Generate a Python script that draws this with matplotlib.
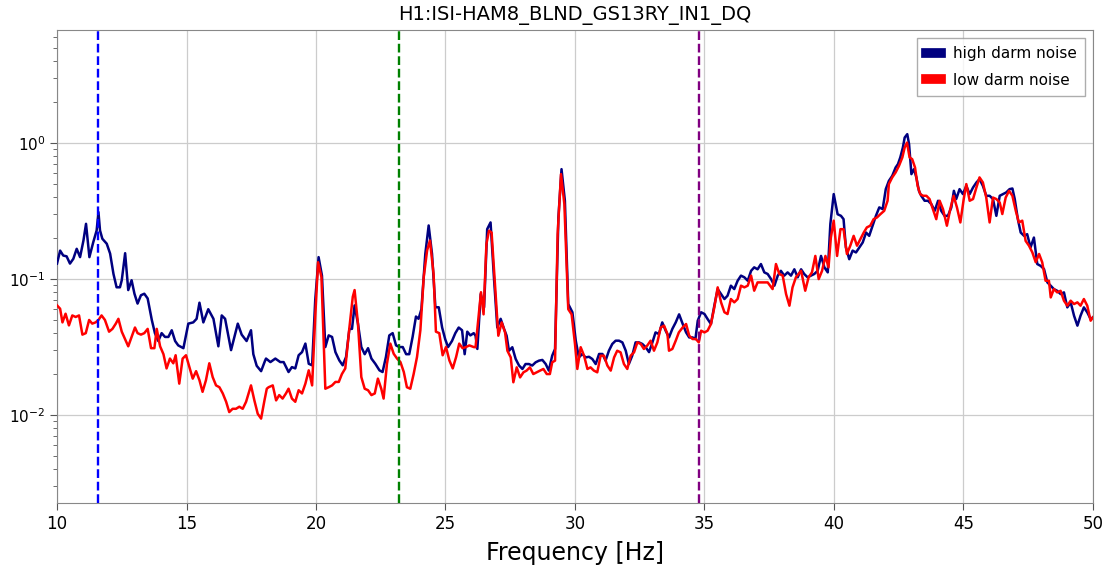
import matplotlib
matplotlib.use("Agg")
import matplotlib.pyplot as plt
from matplotlib.ticker import LogLocator, FixedLocator

title = "H1:ISI-HAM8_BLND_GS13RY_IN1_DQ"
xlabel = "Frequency [Hz]"
labels = ["high darm noise", "low darm noise"]
marker_freqs = [11.58, 23.2, 34.79]
marker_colors = ["#0000ff", "green", "purple"]
xticks = [10, 15, 20, 25, 30, 35, 40, 45, 50]

high_freq = [
    10.0, 10.12, 10.24, 10.37, 10.5, 10.63, 10.76, 10.89, 11.02, 11.12, 11.25, 11.4, 11.53, 11.6, 11.66,
    11.75, 11.92, 12.05, 12.18, 12.3, 12.43, 12.5, 12.63, 12.75, 12.88, 12.99, 13.11, 13.24, 13.37, 13.5,
    13.66, 13.78, 13.91, 14.04, 14.17, 14.3, 14.43, 14.56, 14.68, 14.88, 15.07, 15.26, 15.39, 15.5, 15.65,
    15.84, 16.04, 16.23, 16.36, 16.49, 16.72, 16.98, 17.13, 17.32, 17.49, 17.58, 17.71, 17.88, 18.03,
    18.07, 18.24, 18.43, 18.62, 18.75, 18.94, 19.07, 19.2, 19.33, 19.46, 19.59, 19.72, 19.85, 19.97,
    20.1, 20.23, 20.36, 20.49, 20.62, 20.75, 20.9, 21.03, 21.16, 21.29, 21.39, 21.49, 21.62, 21.75,
    21.88, 22.01, 22.14, 22.29, 22.45, 22.57, 22.7, 22.83, 22.96, 23.09, 23.22, 23.35, 23.48, 23.6,
    23.73, 23.86, 23.96, 24.07, 24.22, 24.35, 24.48, 24.61, 24.74, 24.87, 24.99, 25.1, 25.25, 25.38,
    25.51, 25.64, 25.74, 25.84, 25.96, 26.09,
    26.16, 26.23, 26.36, 26.49, 26.61, 26.74, 26.87, 27.0, 27.13, 27.26, 27.36, 27.45, 27.58, 27.71,
    27.84, 27.97, 28.09, 28.22, 28.35, 28.48, 28.61, 28.74, 28.87, 28.99, 29.12, 29.23, 29.36, 29.48,
    29.61, 29.74, 29.9, 30.03, 30.15, 30.28, 30.41, 30.54, 30.67, 30.8, 30.93, 31.06, 31.18, 31.31,
    31.44, 31.57, 31.7, 31.83, 31.96, 32.08, 32.21, 32.34, 32.47, 32.6, 32.73, 32.86, 32.99, 33.11,
    33.24, 33.37, 33.5, 33.63, 33.76, 33.89, 34.02,
    34.16, 34.29, 34.41, 34.54, 34.65, 34.74, 34.87, 35.0, 35.12, 35.25, 35.38, 35.51, 35.64, 35.77,
    35.89, 36.02, 36.15, 36.28, 36.41, 36.54, 36.67, 36.8, 36.92, 37.05, 37.18, 37.31, 37.44, 37.57,
    37.7, 37.83, 37.95, 38.08, 38.21, 38.34, 38.47, 38.6, 38.73, 38.85, 38.98, 39.11, 39.24, 39.37,
    39.5, 39.63, 39.76, 39.86, 39.99, 40.14, 40.27, 40.37, 40.46, 40.59, 40.72, 40.85, 40.98, 41.11,
    41.24, 41.36, 41.49, 41.62, 41.75, 41.88,
    42.0, 42.12, 42.25, 42.38, 42.47, 42.56, 42.66, 42.73, 42.83, 42.9, 42.99, 43.09, 43.18, 43.28,
    43.37, 43.5, 43.63, 43.76, 43.89, 44.02, 44.14, 44.27, 44.4, 44.53, 44.63, 44.72, 44.85, 44.98,
    45.11, 45.24, 45.37, 45.5, 45.62, 45.75, 45.88, 46.01, 46.14, 46.27, 46.4, 46.53, 46.65, 46.78,
    46.89, 46.98, 47.1, 47.21, 47.34, 47.46, 47.59, 47.72, 47.85, 47.98, 48.11, 48.24, 48.37, 48.49,
    48.62, 48.75, 48.88, 49.01, 49.14, 49.27, 49.4, 49.52, 49.65, 49.78, 49.91, 50.0,
]
high_vals = [
    0.13, 0.162, 0.149, 0.147, 0.13, 0.141, 0.167, 0.145, 0.192, 0.255, 0.145, 0.187, 0.228, 0.311, 0.228,
    0.198, 0.182, 0.154, 0.109, 0.087, 0.087, 0.098, 0.155, 0.083, 0.098, 0.078, 0.066, 0.076, 0.078, 0.072,
    0.050, 0.040, 0.035, 0.040, 0.0375, 0.0375, 0.042, 0.035, 0.0325, 0.031, 0.047, 0.048, 0.051, 0.067, 0.048,
    0.060, 0.051, 0.032, 0.054, 0.051, 0.030, 0.047, 0.039, 0.035, 0.042, 0.028, 0.023, 0.021, 0.025,
    0.026, 0.0245, 0.026, 0.0245, 0.0245, 0.0207, 0.0225, 0.022, 0.0275, 0.029, 0.0335, 0.0238, 0.0232, 0.070,
    0.145, 0.106, 0.0316, 0.0385, 0.0375, 0.029, 0.0252, 0.0232, 0.0267, 0.043, 0.043, 0.064, 0.047, 0.0316,
    0.028, 0.031, 0.026, 0.0238, 0.0213, 0.0207, 0.0267, 0.0385, 0.040, 0.0325, 0.0316, 0.0316, 0.028, 0.028,
    0.0375, 0.053, 0.051, 0.060, 0.153, 0.248, 0.153, 0.062, 0.062, 0.044, 0.036, 0.0316, 0.035, 0.040,
    0.044, 0.042, 0.028, 0.041, 0.0385, 0.040,
    0.0383, 0.0306, 0.0776, 0.062, 0.233, 0.261, 0.103, 0.044, 0.051, 0.043, 0.0383, 0.0297, 0.0315, 0.0258,
    0.0231, 0.0218, 0.0237, 0.0237, 0.0231, 0.0244, 0.0251, 0.0254, 0.0237, 0.0212, 0.0273, 0.0306, 0.284, 0.644,
    0.377, 0.0655, 0.057, 0.0352, 0.0265, 0.0281, 0.0265, 0.0268, 0.0258, 0.0237, 0.0281, 0.0281, 0.0251, 0.0297,
    0.0333, 0.0352, 0.0352, 0.0342, 0.0297, 0.0237, 0.0273, 0.0342, 0.0342, 0.0333, 0.0315, 0.0290, 0.0342, 0.0405,
    0.0394, 0.048, 0.0417, 0.0372, 0.043, 0.048, 0.055,
    0.0467, 0.0405, 0.0372, 0.0372, 0.0362, 0.0494, 0.057, 0.0553, 0.0508, 0.0467, 0.0637, 0.0844, 0.0776, 0.0713,
    0.0754, 0.0894, 0.0844, 0.0972, 0.106, 0.103, 0.0972, 0.115, 0.122, 0.118, 0.129, 0.112, 0.109, 0.100,
    0.0894, 0.106, 0.115, 0.106, 0.112, 0.106, 0.118, 0.103, 0.118, 0.109, 0.103, 0.106, 0.109, 0.115,
    0.148, 0.122, 0.112, 0.254, 0.422, 0.30, 0.292, 0.276, 0.171, 0.140, 0.162, 0.157, 0.171, 0.186,
    0.220, 0.208, 0.247, 0.292, 0.337, 0.327,
    0.459, 0.528, 0.575, 0.662, 0.701, 0.785, 0.929, 1.10, 1.165, 0.983, 0.592, 0.644, 0.560, 0.446,
    0.410, 0.377, 0.377, 0.356, 0.318, 0.377, 0.318, 0.292, 0.292, 0.336, 0.446, 0.388, 0.459, 0.422,
    0.485, 0.422, 0.472, 0.514, 0.544, 0.485, 0.410, 0.410, 0.388, 0.292, 0.410, 0.422, 0.434, 0.459,
    0.464, 0.388, 0.276, 0.220, 0.208, 0.214, 0.171, 0.202, 0.129, 0.125, 0.1185, 0.0945, 0.0893, 0.0844,
    0.082, 0.0776, 0.0798, 0.0619, 0.0674, 0.0537, 0.0454, 0.0537, 0.0619, 0.0569, 0.0508, 0.0523,
]

low_freq = [
    10.0, 10.12, 10.21, 10.33, 10.46, 10.59, 10.72, 10.85, 10.98, 11.11, 11.24, 11.36, 11.49, 11.6, 11.72,
    11.85, 12.01, 12.14, 12.27, 12.37, 12.5, 12.63, 12.75, 12.88, 13.01, 13.11, 13.24, 13.37, 13.5, 13.63,
    13.76, 13.85, 13.98, 14.11, 14.23, 14.36, 14.49, 14.58, 14.72, 14.85, 14.98, 15.11, 15.24, 15.37, 15.5,
    15.62, 15.75, 15.88, 16.01, 16.14, 16.27, 16.4, 16.53, 16.65, 16.78, 16.91, 17.04, 17.17, 17.3, 17.49,
    17.62, 17.75, 17.88, 18.01, 18.1,
    18.17, 18.33, 18.46, 18.58, 18.71, 18.84, 18.94, 19.07, 19.2, 19.33, 19.46, 19.59, 19.72, 19.85, 19.97,
    20.08, 20.21, 20.36, 20.49, 20.62, 20.75, 20.88, 21.0, 21.13, 21.29, 21.42, 21.49, 21.62, 21.75, 21.88,
    22.01, 22.14, 22.27, 22.39, 22.52, 22.61, 22.74, 22.87, 23.0, 23.13, 23.26, 23.39, 23.51, 23.64, 23.77,
    23.9, 24.03, 24.16, 24.29, 24.4, 24.54, 24.63, 24.76, 24.89, 25.02, 25.15, 25.28, 25.41, 25.53, 25.66,
    25.79, 25.92, 26.09,
    26.16, 26.27, 26.37, 26.47, 26.58, 26.68, 26.78, 26.91, 27.04, 27.17, 27.3, 27.39, 27.52, 27.62, 27.75,
    27.88, 28.01, 28.13, 28.26, 28.39, 28.52, 28.65, 28.78, 28.91, 29.03, 29.12, 29.23, 29.33, 29.46, 29.59,
    29.74, 29.87, 30.0, 30.09, 30.22, 30.35, 30.48, 30.6, 30.73, 30.86, 30.99, 31.12, 31.25, 31.38, 31.51,
    31.63, 31.76, 31.89, 32.02, 32.15, 32.28, 32.41, 32.54, 32.66, 32.79, 32.92, 33.05, 33.18, 33.31, 33.44,
    33.57, 33.63, 33.76, 33.89, 34.01,
    34.16, 34.29, 34.41, 34.54, 34.67, 34.78, 34.87, 35.0, 35.12, 35.25, 35.38, 35.51, 35.64, 35.77, 35.89,
    36.02, 36.15, 36.28, 36.41, 36.54, 36.67, 36.8, 36.92, 37.05, 37.18, 37.31, 37.44, 37.63, 37.76, 37.89,
    38.02, 38.15, 38.28, 38.4, 38.53, 38.73, 38.89, 39.02, 39.15, 39.28, 39.41, 39.54, 39.67, 39.79, 39.88,
    39.99, 40.12, 40.25, 40.37, 40.5, 40.63, 40.76, 40.89, 41.02, 41.15, 41.27, 41.4, 41.53, 41.66, 41.79,
    41.94, 42.07,
    42.12, 42.25, 42.38, 42.51, 42.64, 42.73, 42.82, 42.92, 43.02, 43.13, 43.23, 43.33, 43.44, 43.57, 43.69,
    43.82, 43.95, 44.08, 44.21, 44.36, 44.49, 44.62, 44.75, 44.88, 45.01, 45.11, 45.24, 45.37, 45.5, 45.62,
    45.75, 45.88, 46.01, 46.14, 46.27, 46.4, 46.5, 46.63, 46.76, 46.89, 47.02, 47.14, 47.27, 47.4, 47.53,
    47.66, 47.79, 47.92, 48.04, 48.17, 48.3, 48.37, 48.49, 48.62, 48.75, 48.88, 49.01, 49.14, 49.27, 49.4,
    49.52, 49.65, 49.78, 49.91, 50.0,
]
low_vals = [
    0.064, 0.0605, 0.048, 0.0556, 0.0456, 0.054, 0.0526, 0.054, 0.039, 0.040, 0.050, 0.047, 0.048, 0.050, 0.054,
    0.050, 0.041, 0.043, 0.047, 0.051, 0.041, 0.036, 0.032, 0.0375, 0.044, 0.040, 0.039, 0.040, 0.043, 0.031,
    0.031, 0.043, 0.032, 0.028, 0.022, 0.026, 0.024, 0.0275, 0.017, 0.026, 0.0275, 0.0225, 0.0185, 0.021, 0.018,
    0.0148, 0.018, 0.024, 0.019, 0.0165, 0.016, 0.0144, 0.0125, 0.0105, 0.0111, 0.0111, 0.0115, 0.0111, 0.0125, 0.0165,
    0.0128, 0.0102, 0.0094, 0.0128, 0.0156,
    0.016, 0.0165, 0.0128, 0.014, 0.0132, 0.0144, 0.0156, 0.0132, 0.0125, 0.0152, 0.0144, 0.017, 0.0213, 0.0165, 0.053,
    0.133, 0.1035, 0.0156, 0.016, 0.0165, 0.0175, 0.0175, 0.020, 0.022, 0.044, 0.074, 0.083, 0.047, 0.019, 0.0156,
    0.0152, 0.014, 0.0144, 0.0185, 0.0156, 0.0132, 0.0238, 0.0335, 0.0282, 0.026, 0.0245, 0.0207, 0.016, 0.0156, 0.020,
    0.0267, 0.042, 0.1035, 0.1625, 0.192, 0.109, 0.041, 0.040, 0.0275, 0.0316, 0.0252, 0.022, 0.0267, 0.0335, 0.031,
    0.0316, 0.0325, 0.0316,
    0.0315, 0.051, 0.080, 0.055, 0.181, 0.227, 0.220, 0.092, 0.0383, 0.048, 0.0405, 0.0297, 0.0265, 0.0174, 0.0224,
    0.0189, 0.0206, 0.0212, 0.0224, 0.020, 0.0206, 0.0212, 0.0218, 0.020, 0.020, 0.0244, 0.0251, 0.214, 0.592, 0.356,
    0.060, 0.055, 0.0333, 0.0218, 0.0315, 0.0273, 0.0218, 0.0224, 0.0212, 0.0206, 0.0273, 0.0273, 0.0231, 0.0212, 0.0265,
    0.0297, 0.0289, 0.0237, 0.0218, 0.0273, 0.0289, 0.0342, 0.0333, 0.0306, 0.0324, 0.0352, 0.0297, 0.0342, 0.044, 0.0454,
    0.0394, 0.0297, 0.0306, 0.0352, 0.0405,
    0.0441, 0.0467, 0.0383, 0.0362, 0.0362, 0.0342, 0.0417, 0.0405, 0.0417, 0.0467, 0.0619, 0.0869, 0.0674, 0.057, 0.0553,
    0.0713, 0.0674, 0.0713, 0.0894, 0.0869, 0.0894, 0.106, 0.0821, 0.0945, 0.0945, 0.0945, 0.0945, 0.0844, 0.129, 0.109,
    0.106, 0.0776, 0.0637, 0.0869, 0.103, 0.115, 0.0821, 0.103, 0.112, 0.148, 0.100, 0.115, 0.148, 0.122, 0.202,
    0.269, 0.148, 0.233, 0.233, 0.153, 0.176, 0.208, 0.176, 0.197, 0.220, 0.240, 0.247, 0.276, 0.284, 0.30,
    0.318, 0.377,
    0.50, 0.560, 0.609, 0.681, 0.785, 0.929, 1.01, 0.785, 0.763, 0.662, 0.485, 0.422, 0.410, 0.410, 0.388,
    0.327, 0.276, 0.377, 0.327, 0.247, 0.327, 0.410, 0.336, 0.261, 0.388, 0.50, 0.377, 0.388, 0.472, 0.560,
    0.514, 0.398, 0.261, 0.398, 0.388, 0.366, 0.301, 0.398, 0.446, 0.410, 0.318, 0.261, 0.269, 0.191, 0.176,
    0.157, 0.133, 0.153, 0.133, 0.0972, 0.0972, 0.0733, 0.0844, 0.0798, 0.082, 0.0693, 0.0637, 0.0693, 0.0655, 0.0674,
    0.0637, 0.0713, 0.0637, 0.0494, 0.0523,
]

plt.rcParams["font.family"] = ["DejaVu Sans"]
fig = plt.figure(figsize=(11.05, 5.67), dpi=100)
ax = fig.add_axes([0.0516, 0.1129, 0.9375, 0.8341])

ax.plot(high_freq, high_vals, color="navy", lw=1.8, label=labels[0], zorder=3)
ax.plot(low_freq, low_vals, color="red", lw=1.8, label=labels[1], zorder=4)
for f, c in zip(marker_freqs, marker_colors):
    ax.axvline(f, color=c, ls="--", lw=1.7, zorder=5)

ax.set_yscale("log")
ax.set_xlim(10, 50)
ax.set_ylim(2.25e-3, 6.8)
ax.xaxis.set_major_locator(FixedLocator(xticks))
ax.yaxis.set_major_locator(LogLocator(base=10, numticks=10))
ax.yaxis.set_minor_locator(LogLocator(base=10, subs=range(2, 10), numticks=100))
ax.grid(True, which="major", color="#cccccc", lw=0.9)
ax.set_axisbelow(True)
for s in ax.spines.values():
    s.set_color("#888888")
ax.tick_params(axis="both", which="both", colors="#555555", labelcolor="black", labelsize=12)
ax.tick_params(axis="y", which="major", length=5, labelsize=11)
ax.tick_params(axis="y", which="minor", length=3)
ax.tick_params(axis="x", which="major", length=5)
ax.set_xlabel(xlabel, fontsize=17, labelpad=6)
ax.set_title(title, fontsize=14, pad=7)

leg = ax.legend(loc="upper right", fontsize=11, handlelength=1.0, frameon=True,
                fancybox=False, edgecolor="#999999", borderpad=0.55, labelspacing=0.75)
for h in leg.get_lines():
    h.set_linewidth(7)

fig.savefig("out.png", dpi=100)
